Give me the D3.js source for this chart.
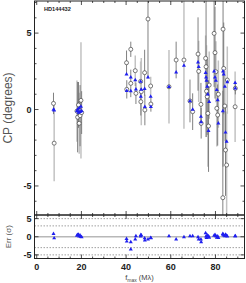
<!DOCTYPE html>
<html><head><meta charset="utf-8">
<script src="https://cdn.jsdelivr.net/npm/d3@7"></script>
<style>body{margin:0;background:#fff}svg{display:block}</style>
</head><body>
<svg id="c" width="246" height="283"></svg>
<script>
// ---- data ----
const fmax    = [7.5, 7.8, 18.0, 18.3, 18.7, 19.0, 19.4, 19.8, 20.1,
  40.2, 40.3, 42.1, 42.1, 44.1, 44.4, 46.5, 46.6, 46.8, 48.3, 48.4, 49.8, 51.0, 51.1,
  59.2, 62.4, 65.9, 68.6, 69.8, 72.2, 72.5, 73.5, 73.6,
  75.6, 75.8, 76.0, 76.3, 76.6, 76.9, 77.2, 79.4, 79.8, 80.2, 80.6, 81.0, 81.3,
  83.4, 83.7, 84.2, 84.5, 85.0, 83.3, 85.3, 88.8, 88.9];
const cpObs   = [0.4, -2.2, -0.1, -0.5, 0.3, -0.9, -0.4, 0.6, -0.2,
  3.06, 1.32, 3.94, 1.71, 2.54, 1.06, 1.84, 0.51, 1.17, 2.41, -0.03, 5.92, 1.54, 0.36,
  1.49, 3.24, 3.24, 0.56, -0.14, 3.63, 2.5, 0.34, -0.9,
  3.35, 2.8, 1.2, 0.84, -0.25, -1.08, 1.6, 4.98, 3.72, 2.47, 0.08, -0.36, 1.0,
  5.26, 2.69, 0.23, -2.65, -3.63, -5.77, 1.93, 0.18, 1.39];
const cpErr   = [0.7, 2.5, 2.0, 2.3, 1.5, 2.0, 2.0, 3.8, 1.4,
  0.8, 0.6, 0.5, 0.9, 1.0, 0.7, 1.3, 0.9, 2.2, 1.5, 1.0, 3.9, 0.6, 0.5,
  2.4, 1.2, 4.5, 1.4, 1.2, 2.4, 2.0, 1.4, 1.0,
  1.5, 4.6, 3.0, 2.5, 3.5, 3.0, 2.2, 3.5, 3.0, 2.0, 2.5, 2.0, 2.2,
  9.0, 3.0, 2.3, 3.0, 3.5, 7.0, 2.2, 2.3, 0.4];
const cpModel = [0.0, -0.05, -0.1, 0.0, -0.2, 0.1, -0.15, 0.2, -0.1,
  2.3, 1.23, 2.1, 1.2, 1.93, 1.32, 1.82, 0.84, 1.3, 1.36, 0.18, 2.1, 0.84, 0.18,
  1.49, 2.43, 2.87, 0.56, 0.0, 3.09, 2.8, -0.47, -0.82,
  2.4, 2.1, 1.9, 1.5, 1.0, -1.4, 0.5, 2.5, 2.1, 1.9, 1.28, 0.62, -0.9,
  2.5, 2.3, 1.5, -1.5, -2.1, -0.1, 1.8, 1.75, 1.39];
const barShade = ["d","l","l","d","d","l","d","l","d",
  "d","d","d","d","l","d","l","d","l","d","d","d","l","d",
  "l","d","l","d","d","d","l","d","d",
  "l","d","l","d","l","d","l","d","d","l","l","d","l",
  "d","d","l","d","l","d","l","l","d"];
const residual = [0.8, -0.4, 0.3, 0.5, 0.6, 0.1, 0.4, 0.0, -0.1,
  -0.55, -1.3, -3.5, -1.5, -0.7, 0.2, 0.1, 0.5, 0.4, -0.4, -1.0, -0.7, -0.3, -0.36,
  0.2, -0.7, -0.1, 0.2, 0.2, -0.1, -0.7, -0.7, -1.5,
  1.0, 0.1, -0.3, 0.4, 0.2, 0.1, -0.2, 0.3, 0.5, 0.2, -0.2, 0.1, -0.3,
  0.6, 0.4, 0.2, 0.6, 0.3, 0.8, 0.1, 0.2, 0.2];
const xTicks = [0, 20, 40, 60, 80];
const topYTicks = [-5, 0, 5];
const errYTicks = [-5, 0, 5];
const errRefLines = [-5, -3, 3, 5];
const title = "HD144432";

// ---- layout ----
const L = 34.5, R = 244.5, T = 1, MID = 215, B = 258.5;
const svg = d3.select("#c");
const x = d3.scaleLinear().domain([-1, 93]).range([L, R]);
const yTop = d3.scaleLinear().domain([-6.9, 7.1]).range([MID, T]);
const yErr = d3.scaleLinear().domain([-6, 6]).range([B, MID]);

const pts = fmax.map((f, i) => ({f, o: cpObs[i], e: cpErr[i], m: cpModel[i], s: barShade[i], r: residual[i]}));

svg.append("clipPath").attr("id", "ct").append("rect")
  .attr("x", L).attr("y", T).attr("width", R - L).attr("height", MID - T);
svg.append("clipPath").attr("id", "cb").append("rect")
  .attr("x", L).attr("y", MID).attr("width", R - L).attr("height", B - MID);

// ---- top panel ----
const gt = svg.append("g").attr("clip-path", "url(#ct)");
const order = pts.slice().sort((a, b) => (a.s === "l" ? 0 : 1) - (b.s === "l" ? 0 : 1));
gt.selectAll("line.eb").data(order).join("line").attr("class", "eb")
  .attr("x1", d => x(d.f)).attr("x2", d => x(d.f))
  .attr("y1", d => yTop(d.o + d.e)).attr("y2", d => yTop(d.o - d.e))
  .attr("stroke", d => d.s === "l" ? "#c2c2c2" : "#737373")
  .attr("stroke-width", d => d.s === "l" ? 1.5 : 0.9);
gt.selectAll("circle.ob").data(pts).join("circle").attr("class", "ob")
  .attr("cx", d => x(d.f)).attr("cy", d => yTop(d.o)).attr("r", 2)
  .attr("fill", "#fff").attr("stroke", "#444").attr("stroke-width", 0.7);
const tri = d3.symbol().type(d3.symbolTriangle).size(7);
gt.selectAll("path.md").data(pts).join("path").attr("class", "md")
  .attr("transform", d => `translate(${x(d.f)},${yTop(d.m)})`)
  .attr("d", tri).attr("fill", "#1f1fef");

// ---- bottom panel ----
const gb = svg.append("g").attr("clip-path", "url(#cb)");
gb.selectAll("line.ref").data(errRefLines).join("line").attr("class", "ref")
  .attr("x1", L).attr("x2", R).attr("y1", d => yErr(d)).attr("y2", d => yErr(d))
  .attr("stroke", "#888").attr("stroke-width", 0.8).attr("stroke-dasharray", "1.5,1.5");
gb.append("line").attr("x1", L).attr("x2", R).attr("y1", yErr(0)).attr("y2", yErr(0))
  .attr("stroke", "#b8b8b8").attr("stroke-width", 1.6);
gb.selectAll("path.rs").data(pts).join("path").attr("class", "rs")
  .attr("transform", d => `translate(${x(d.f)},${yErr(d.r)})`)
  .attr("d", tri).attr("fill", "#1f1fef");

// ---- frames & ticks ----
function frame(y0, y1) {
  svg.append("rect").attr("x", L).attr("y", y0).attr("width", R - L).attr("height", y1 - y0)
    .attr("fill", "none").attr("stroke", "#222").attr("stroke-width", 1);
}
frame(T, MID); frame(MID, B);

function xTicksFor(y0, y1) {
  const minors = d3.range(0, 93, 5);
  minors.forEach(v => {
    const major = xTicks.includes(v);
    const len = major ? 4 : 2;
    svg.append("line").attr("x1", x(v)).attr("x2", x(v)).attr("y1", y1).attr("y2", y1 - len).attr("stroke", "#222").attr("stroke-width", 0.8);
    svg.append("line").attr("x1", x(v)).attr("x2", x(v)).attr("y1", y0).attr("y2", y0 + len).attr("stroke", "#222").attr("stroke-width", 0.8);
  });
}
xTicksFor(T, MID); xTicksFor(MID, B);

function yTicksFor(scale, majors, minors) {
  minors.forEach(v => {
    const len = majors.includes(v) ? 4 : 2;
    svg.append("line").attr("x1", L).attr("x2", L + len).attr("y1", scale(v)).attr("y2", scale(v)).attr("stroke", "#222").attr("stroke-width", 0.8);
    svg.append("line").attr("x1", R).attr("x2", R - len).attr("y1", scale(v)).attr("y2", scale(v)).attr("stroke", "#222").attr("stroke-width", 0.8);
  });
  svg.selectAll(null).data(majors).join("text")
    .attr("x", L - 3).attr("y", d => scale(d) + 3.2).attr("text-anchor", "end")
    .attr("font-family", "Liberation Sans, Arial, sans-serif").attr("font-weight", "bold")
    .attr("font-size", 9).attr("fill", "#222").text(d => d < 0 ? "-" + Math.abs(d) : d);
}
yTicksFor(yTop, topYTicks, d3.range(-6, 8, 1));
yTicksFor(yErr, errYTicks, errYTicks);

svg.selectAll(null).data(xTicks).join("text")
  .attr("x", d => x(d)).attr("y", 270).attr("text-anchor", "middle")
  .attr("font-family", "Liberation Sans, Arial, sans-serif").attr("font-weight", "bold")
  .attr("font-size", 9).attr("fill", "#222").text(d => d);

// ---- labels ----
svg.append("text").attr("x", 44).attr("y", 10.5)
  .attr("font-family", "Liberation Sans, Arial, sans-serif").attr("font-weight", "bold")
  .attr("font-size", 5.6).attr("fill", "#222").text(title);

svg.append("text").attr("transform", `translate(12,${yTop(0.1)}) rotate(-90)`)
  .attr("text-anchor", "middle").attr("font-family", "Liberation Sans, Arial, sans-serif")
  .attr("font-size", 12).attr("fill", "#555").text("CP (degrees)");
svg.append("text").attr("transform", `translate(11,${yErr(0)}) rotate(-90)`)
  .attr("text-anchor", "middle").attr("font-family", "Liberation Sans, Arial, sans-serif")
  .attr("font-size", 8).attr("fill", "#555").text("Err (σ)");

const xl = svg.append("text").attr("x", x(46)).attr("y", 280).attr("text-anchor", "middle")
  .attr("font-family", "Liberation Sans, Arial, sans-serif").attr("font-size", 7.5).attr("fill", "#444");
xl.append("tspan").text("f");
xl.append("tspan").attr("font-size", 5).attr("dy", 1.5).text("max");
xl.append("tspan").attr("dy", -1.5).text(" (Mλ)");
</script>
</body></html>
